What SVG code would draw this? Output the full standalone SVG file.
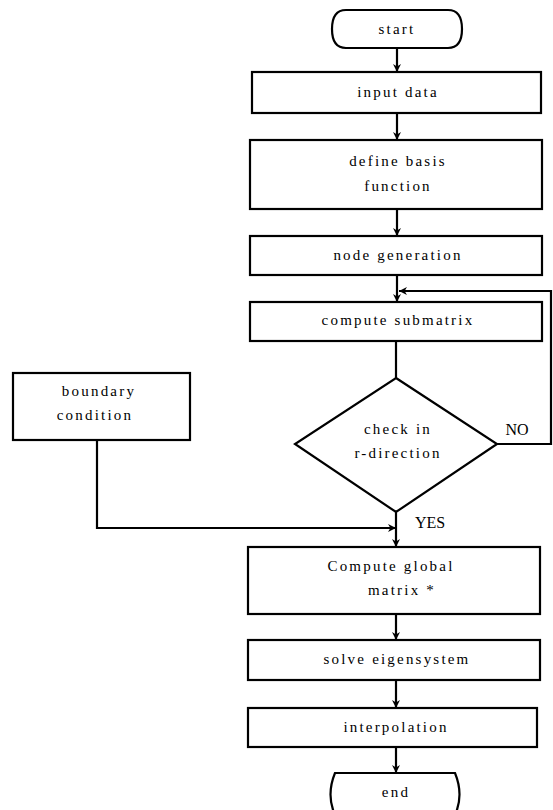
<svg xmlns="http://www.w3.org/2000/svg" width="553" height="810" viewBox="0 0 553 810">
<style>
.b{fill:none;stroke:#000;stroke-width:2.2}
.c{fill:none;stroke:#000;stroke-width:2.2}
text{font-family:"Liberation Serif","DejaVu Serif",serif;font-size:15px;fill:#000;text-anchor:middle;letter-spacing:2.2px}
.l{font-size:16px;letter-spacing:0}
</style>
<defs>
<marker id="a" viewBox="0 0 10 10" refX="10" refY="5" markerWidth="8" markerHeight="8" orient="auto" markerUnits="userSpaceOnUse">
<path d="M0,0 L10,5 L0,10 L3,5 z" fill="#000"/>
</marker>
</defs>
<rect width="553" height="810" fill="#fff"/>
<g id="start"><path class="b" d="M346,10 H448 Q462,10 462,29 Q462,48 448,48 H346 Q332,48 332,29 Q332,10 346,10 Z"/><text x="397" y="34">start</text></g>
<g id="input"><rect class="b" x="252" y="72" width="289" height="41"/><text x="398" y="97">input data</text></g>
<g id="define"><rect class="b" x="250" y="140" width="292" height="69"/><text x="398" y="166">define basis</text><text x="398" y="191">function</text></g>
<g id="nodegen"><rect class="b" x="250" y="236" width="292" height="39"/><text x="398" y="260">node generation</text></g>
<g id="submatrix"><rect class="b" x="250" y="302" width="292" height="39"/><text x="398" y="325">compute submatrix</text></g>
<g id="check"><path class="b" d="M396,378 L497,444 L396,512 L295,444 Z"/><text x="398" y="434">check in</text><text x="398" y="458">r-direction</text></g>
<g id="boundary"><rect class="b" x="13" y="373" width="177" height="67"/><text x="99" y="396">boundary</text><text x="95" y="420">condition</text></g>
<g id="global"><rect class="b" x="248" y="547" width="292" height="67"/><text x="391" y="571">Compute global</text><text x="402" y="595">matrix *</text></g>
<g id="solve"><rect class="b" x="248" y="640" width="292" height="40"/><text x="397" y="664">solve eigensystem</text></g>
<g id="interp"><rect class="b" x="248" y="708" width="289" height="39"/><text x="396" y="732">interpolation</text></g>
<g id="end"><path class="b" d="M335,815 Q326,795 335,773 H455 Q464,795 455,815"/><text x="396" y="797">end</text></g>
<g id="connectors">
<line class="c" x1="397" y1="48" x2="397" y2="72" marker-end="url(#a)"/>
<line class="c" x1="397" y1="113" x2="397" y2="140" marker-end="url(#a)"/>
<line class="c" x1="397" y1="209" x2="397" y2="236" marker-end="url(#a)"/>
<line class="c" x1="397" y1="275" x2="397" y2="302" marker-end="url(#a)"/>
<line class="c" x1="396" y1="341" x2="396" y2="378"/>
<polyline class="c" points="497,444 551,444 551,291 399,291" marker-end="url(#a)"/>
<polyline class="c" points="97,440 97,528 396,528" marker-end="url(#a)"/>
<line class="c" x1="396" y1="512" x2="396" y2="547" marker-end="url(#a)"/>
<line class="c" x1="396" y1="614" x2="396" y2="640" marker-end="url(#a)"/>
<line class="c" x1="396" y1="680" x2="396" y2="708" marker-end="url(#a)"/>
<line class="c" x1="396" y1="747" x2="396" y2="773" marker-end="url(#a)"/>
<text class="l" x="517" y="435">NO</text>
<text class="l" x="430" y="528">YES</text>
</g>
</svg>
